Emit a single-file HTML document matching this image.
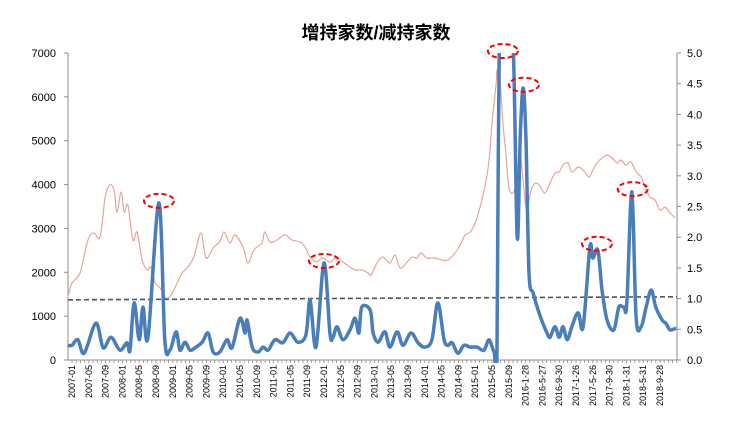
<!DOCTYPE html>
<html><head><meta charset="utf-8"><style>
html,body{margin:0;padding:0;background:#fff;}
svg{display:block;font-family:"Liberation Sans","Noto Sans CJK SC",sans-serif;}
</style></head><body>
<svg id="chart" width="740" height="425" viewBox="0 0 740 425" xmlns="http://www.w3.org/2000/svg">
<defs><clipPath id="plotclip"><rect x="60" y="53" width="620" height="310"/></clipPath></defs>
<text x="376" y="39" text-anchor="middle" font-size="18" font-weight="bold" font-family="'Liberation Sans','Noto Sans CJK SC',sans-serif" fill="#000">增持家数/减持家数</text>
<g id="axes"></g>
<g id="series" clip-path="url(#plotclip)"></g>
<g id="marks"></g>
</svg>
<script>
const xLabels=["2007-01","2007-05","2007-09","2008-01","2008-05","2008-09","2009-01","2009-05","2009-09","2010-01","2010-05","2010-09","2011-01","2011-05","2011-09","2012-01","2012-05","2012-09","2013-01","2013-05","2013-09","2014-01","2014-05","2014-09","2015-01","2015-05","2015-09","2016-1-28","2016-5-27","2016-9-30","2017-1-26","2017-5-26","2017-9-30","2018-1-31","2018-5-31","2018-9-28"];
const leftTicks=[0,1000,2000,3000,4000,5000,6000,7000];
const rightTicks=["0.0","0.5","1.0","1.5","2.0","2.5","3.0","3.5","4.0","4.5","5.0"];
// months since 2007-01
const blueT=[-1,0,1.4,2.9,5.7,7.4,9.3,11.4,13.1,13.8,14.8,16,16.9,18.1,20.7,22.1,23.3,24.8,25.7,26.9,28.1,29.3,31,32.4,33.6,35.2,36.9,38.1,40,41.2,41.7,42.9,44.3,45.5,46.7,48.3,50.2,51.9,53.8,55.7,56.7,58.1,60,61.4,62.1,63.1,64.5,66.2,67.4,68.3,69,71,71.7,72.9,74.5,75.7,77.4,78.8,80.7,82.4,84,85.7,87.1,88.6,89.5,90.5,91.9,93.3,94.8,96.4,98.1,99.3,100.5,101.2,101.9,103.3,105,106,106.7,107.4,108.1,108.8,109.8,111,112.1,113.1,113.8,115,116,116.9,117.9,119,120.5,121.7,123.3,124,125.2,126.2,127.4,129,130.2,131.4,132.1,133.3,134.3,135.5,136.7,137.9,139,140.5,141.4,142.4,143.8];
const blueV=[0.24,0.24,0.33,0.11,0.60,0.20,0.37,0.16,0.28,0.16,0.93,0.33,0.86,0.37,2.56,0.33,0.16,0.46,0.16,0.29,0.16,0.20,0.29,0.44,0.13,0.13,0.33,0.20,0.68,0.44,0.65,0.21,0.13,0.21,0.16,0.33,0.28,0.44,0.29,0.41,0.98,0.21,1.58,0.44,0.36,0.54,0.33,0.49,0.68,0.44,0.86,0.81,0.44,0.29,0.46,0.21,0.46,0.24,0.44,0.28,0.21,0.33,0.93,0.33,0.24,0.28,0.11,0.24,0.21,0.21,0.16,0.33,0.13,0.20,6.5,6.0,5.2,2.0,3.58,4.43,3.58,1.42,1.09,0.81,0.60,0.44,0.37,0.54,0.37,0.54,0.33,0.54,0.77,0.54,1.84,1.66,1.79,1.14,0.65,0.49,0.86,0.86,0.93,2.74,0.70,0.54,0.86,1.14,0.86,0.65,0.60,0.49,0.52];
const redT=[-1,0,1.9,3.8,5.2,6.7,7.9,9,10,10.7,11.7,12.4,13.3,14.5,15.5,16.7,17.9,18.8,19.8,21,22.4,23.6,24.8,26.2,27.4,29,30.7,31.9,33.6,35.2,36.2,37.6,38.8,40.7,41.9,43.3,45.2,45.9,47.1,48.8,50.7,52.4,54.3,55.5,56.7,58.3,59.5,61.4,62.6,63.8,65.5,67.4,69,70.5,71.2,72.6,74,75.7,76.9,78.1,79.8,81,82.1,83.1,84.5,86.2,88.1,89.5,91.2,92.4,93.6,94.8,96,97.1,98.3,99.3,100,101,101.2,101.9,102.6,103.3,104,105,105.7,106.7,107.6,108.3,109.3,110.5,111.7,112.6,113.8,115,116,116.9,118.1,119,120.5,121.7,123.1,124,125,126.2,127.4,128.6,129.8,130.7,131.9,133.1,134.3,135.5,136.4,137.6,138.8,140,141.2,142.4,143.6];
const redV=[1436,1756,1984,2736,2896,2804,3716,3990,3876,3374,3830,3374,3534,2736,2918,2280,2052,2120,1756,1642,1414,1482,1710,1984,2098,2348,2896,2326,2554,2700,2918,2668,2850,2576,2212,2508,2668,2918,2690,2736,2850,2736,2690,2576,2348,2234,2326,2234,2326,2280,2166,2052,2052,1984,1938,2212,2348,2212,2394,2098,2234,2348,2326,2440,2326,2326,2280,2280,2440,2622,2850,2918,3124,3466,3944,4560,5404,6316,6612,6384,5404,4720,3944,3808,4036,4674,3876,3420,3876,4036,3922,3808,4036,4264,4286,4446,4492,4286,4400,4332,4172,4332,4492,4606,4674,4606,4492,4560,4446,4514,4286,4172,3944,3716,3648,3420,3488,3352,3238];
const trendV=[0.98,1.03];
const highlightT=[20.7,60,102.6,107.6,125,133.5];
const highlightV=[2.56,1.58,5.0,4.45,1.86,2.75];

const NS="http://www.w3.org/2000/svg";
const X0=72,DX=4.2,Y0=360,YTOP=53,XL=68,XR=677;
const xM=m=>X0+m*DX;
const yL=v=>Y0-v*(Y0-YTOP)/7000;
const yR=v=>Y0-v*(Y0-YTOP)/5;
function mk(tag,attrs,parent){const e=document.createElementNS(NS,tag);for(const k in attrs)e.setAttribute(k,attrs[k]);parent.appendChild(e);return e;}
const axes=document.getElementById('axes'),series=document.getElementById('series'),marks=document.getElementById('marks');

let a=mk('line',{x1:XL,y1:YTOP,x2:XL,y2:Y0,stroke:'#8c8c8c','stroke-width':1},axes);


a=mk('line',{x1:XR,y1:YTOP,x2:XR,y2:Y0,stroke:'#8c8c8c','stroke-width':1},axes);


a=mk('line',{x1:XL,y1:Y0,x2:XR,y2:Y0,stroke:'#8c8c8c','stroke-width':1},axes);



leftTicks.forEach(v=>{
  const y=yL(v);
  mk('line',{x1:XL-4,y1:y,x2:XL,y2:y,stroke:'#8c8c8c'},axes);
  const t=mk('text',{x:XL-12,y:y+4,'text-anchor':'end','font-size':11,fill:'#000'},axes);
  t.textContent=v;
  
  
});
rightTicks.forEach(s=>{
  const y=yR(parseFloat(s));
  mk('line',{x1:XR,y1:y,x2:XR+4,y2:y,stroke:'#8c8c8c'},axes);
  const t=mk('text',{x:XR+10,y:y+4,'font-size':11,fill:'#000'},axes);
  t.textContent=s;
  
  
});
for(let m=-1;m<=144;m++){const x=xM(m);if(x<XL||x>XR)continue;mk('line',{x1:x,y1:Y0,x2:x,y2:Y0+3,stroke:'#8c8c8c','stroke-width':0.8},axes);}
xLabels.forEach((s,i)=>{
  const x=X0+i*16.8;
  const t=mk('text',{x:0,y:0,transform:`translate(${x+3},365) rotate(-90)`,'text-anchor':'end','font-size':9,fill:'#000'},axes);
  t.textContent=s;
  
  
});

function smooth(pts){
  let d=`M${pts[0][0]},${pts[0][1]}`;
  for(let i=0;i<pts.length-1;i++){
    const p0=pts[i-1]||pts[i],p1=pts[i],p2=pts[i+1],p3=pts[i+2]||p2;
    const c1=[p1[0]+(p2[0]-p0[0])/6,p1[1]+(p2[1]-p0[1])/6];
    const c2=[p2[0]-(p3[0]-p1[0])/6,p2[1]-(p3[1]-p1[1])/6];
    d+=`C${c1[0].toFixed(1)},${c1[1].toFixed(1)} ${c2[0].toFixed(1)},${c2[1].toFixed(1)} ${p2[0].toFixed(1)},${p2[1].toFixed(1)}`;
  }
  return d;
}
const redPts=redT.map((m,i)=>[xM(m),yL(redV[i])]);
const red=mk('path',{d:smooth(redPts),fill:'none',stroke:'#e8a49e','stroke-width':1.2},series);



const trend=mk('line',{x1:XL,y1:yR(trendV[0]),x2:XR,y2:yR(trendV[1]),stroke:'#555','stroke-width':1.6,'stroke-dasharray':'5 3'},series);



const bluePts=blueT.map((m,i)=>[xM(m),yR(blueV[i])]);
const blue=mk('path',{d:smooth(bluePts),fill:'none',stroke:'#4a7ebb','stroke-width':3.5,'stroke-linejoin':'round'},series);



highlightT.forEach((m,i)=>{
  const e=mk('ellipse',{cx:xM(m),cy:yR(highlightV[i])-2,rx:15,ry:7,fill:'none',stroke:'#ff0000','stroke-width':2,'stroke-dasharray':'5 3'},marks);
  
  
});
</script>
</body></html>
